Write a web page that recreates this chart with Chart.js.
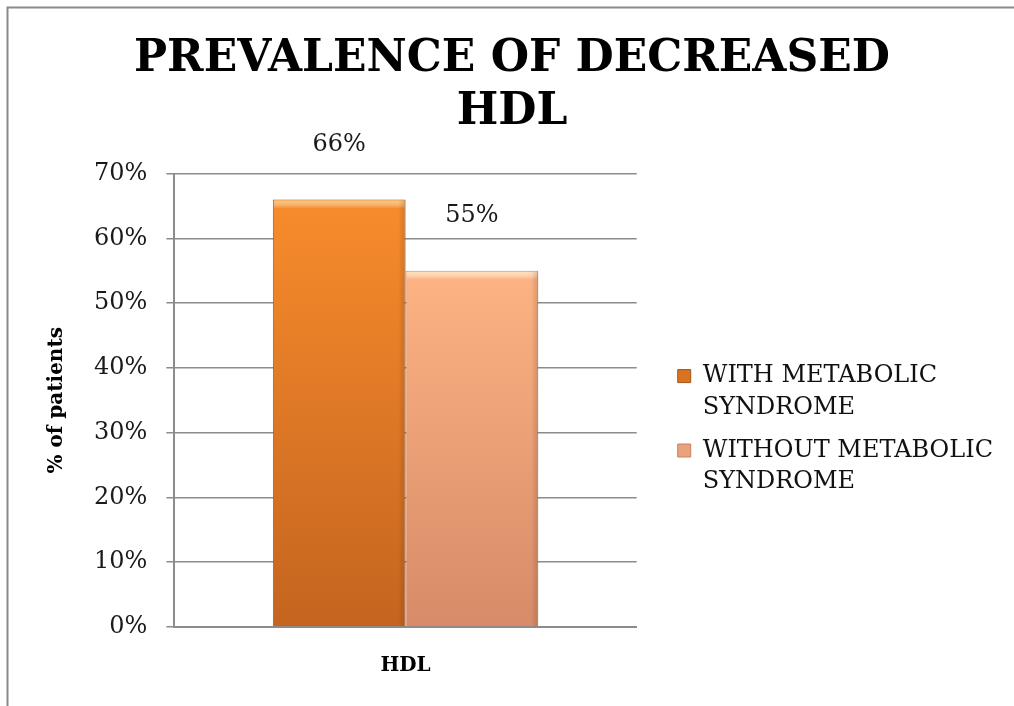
<!DOCTYPE html>
<html>
<head>
<meta charset="utf-8">
<script src="https://cdn.jsdelivr.net/npm/chart.js"></script>
<style>
  body { margin: 0; background: #fff; }
  #wrap { width: 1014px; height: 706px; position: relative; }
</style>
</head>
<body>
<div id="wrap"><canvas id="hdlChart"></canvas></div>
<script>
  const categories = ['HDL'];
  const withMetS = [66];
  const withoutMetS = [55];
  const seriesNames = [['WITH METABOLIC', 'SYNDROME'], ['WITHOUT METABOLIC', 'SYNDROME']];
  const yTicks = [0, 10, 20, 30, 40, 50, 60, 70];

  const serif = '"DejaVu Serif", "Liberation Serif", serif';
  const gridGray = '#8c8c8c';

  // top / bottom colours of each bar's vertical gradient
  const barTop = ['#f78c2c', '#fdb383'];
  const barBottom = ['#c4641f', '#d78b68'];
  const barEdge = ['#a4561c', '#c58262'];
  const barShine = ['#fbc66c', '#ffe2b8'];
  const legendFill = ['#d8731f', '#eaa27b'];

  function barGradient(i) {
    return ctx => {
      const chart = ctx.chart;
      const area = chart.chartArea;
      if (!area || ctx.dataIndex === undefined) return barTop[i];
      const y = chart.scales.y;
      const top = y.getPixelForValue(ctx.raw);
      const g = chart.ctx.createLinearGradient(0, top, 0, area.bottom);
      g.addColorStop(0, barTop[i]);
      g.addColorStop(1, barBottom[i]);
      return g;
    };
  }

  // thin grey frame along the top and left edge
  const frame = {
    id: 'frame',
    beforeDraw(chart) {
      const c = chart.ctx;
      c.save();
      c.strokeStyle = '#8a8a8a';
      c.lineWidth = 2;
      c.beginPath();
      c.moveTo(7.5, chart.height + 5);
      c.lineTo(7.5, 7.5);
      c.lineTo(chart.width + 5, 7.5);
      c.stroke();
      c.restore();
    }
  };

  // light bevel at the top of each bar, shade on the right edge
  const bevel = {
    id: 'bevel',
    afterDatasetsDraw(chart) {
      const c = chart.ctx;
      chart.data.datasets.forEach((ds, i) => {
        chart.getDatasetMeta(i).data.forEach(bar => {
          const {x, y, width, base} = bar.getProps(['x', 'y', 'width', 'base'], true);
          const left = x - width / 2;
          c.save();
          let g = c.createLinearGradient(0, y, 0, y + 9);
          g.addColorStop(0, barShine[i]);
          g.addColorStop(1, 'rgba(255,255,255,0)');
          c.fillStyle = g;
          c.fillRect(left + 1, y + 1, width - 2, 9);
          g = c.createLinearGradient(left + width - 7, 0, left + width, 0);
          g.addColorStop(0, 'rgba(0,0,0,0)');
          g.addColorStop(1, 'rgba(90,40,10,0.18)');
          c.fillStyle = g;
          c.fillRect(left + width - 7, y + 1, 7, base - y - 1);
          c.restore();
        });
      });
    }
  };

  // value labels above the bars
  const valueLabels = {
    id: 'valueLabels',
    afterDatasetsDraw(chart) {
      const c = chart.ctx;
      c.save();
      c.font = '24px ' + serif;
      c.fillStyle = '#1a1a1a';
      c.textAlign = 'center';
      c.textBaseline = 'middle';
      chart.data.datasets.forEach((ds, i) => {
        chart.getDatasetMeta(i).data.forEach((bar, j) => {
          c.fillText(ds.data[j] + '%', bar.x, bar.y - 55);
        });
      });
      c.restore();
    }
  };

  new Chart(document.getElementById('hdlChart'), {
    type: 'bar',
    data: {
      labels: categories,
      datasets: [{
        label: seriesNames[0].join(' '),
        data: withMetS,
        backgroundColor: barGradient(0),
        borderColor: barEdge[0],
        borderWidth: 1,
        categoryPercentage: 0.574,
        barPercentage: 1
      }, {
        label: seriesNames[1].join(' '),
        data: withoutMetS,
        backgroundColor: barGradient(1),
        borderColor: barEdge[1],
        borderWidth: 1,
        categoryPercentage: 0.574,
        barPercentage: 1
      }]
    },
    options: {
      responsive: true,
      maintainAspectRatio: false,
      animation: false,
      layout: { padding: { left: 21, right: 11, top: 6, bottom: 9 } },
      plugins: {
        title: {
          display: true,
          text: ['PREVALENCE OF DECREASED', 'HDL'],
          color: '#000',
          font: { family: serif, size: 44, weight: 'bold', lineHeight: 1.2 },
          padding: { top: 27, bottom: 35 }
        },
        legend: {
          position: 'right',
          fullSize: false,
          maxWidth: 420,
          title: { display: true, text: '', padding: { top: 50, bottom: 0 } },
          labels: {
            boxWidth: 13,
            boxHeight: 13,
            padding: 12,
            color: '#111',
            font: { family: serif, size: 24, lineHeight: 1.3 },
            generateLabels: chart => chart.data.datasets.map((ds, i) => ({
              text: seriesNames[i],
              fillStyle: legendFill[i],
              strokeStyle: barEdge[i],
              fontColor: '#111',
              lineWidth: 1,
              hidden: false,
              datasetIndex: i
            }))
          }
        },
        tooltip: { enabled: false }
      },
      scales: {
        x: {
          grid: { display: false },
          border: { display: true, color: gridGray, width: 2 },
          ticks: {
            color: '#000',
            padding: 19,
            font: { family: serif, size: 20, weight: 'bold' }
          }
        },
        y: {
          min: 0,
          max: 70,
          afterBuildTicks: s => { s.ticks = yTicks.map(v => ({ value: v })); },
          grid: { color: gridGray, lineWidth: 1.5, tickLength: 8 },
          border: { display: true, color: gridGray, width: 2 },
          ticks: {
            color: '#1a1a1a',
            padding: 19,
            font: { family: serif, size: 24 },
            callback: v => v + '%'
          },
          title: {
            display: true,
            text: '% of patients',
            color: '#000',
            font: { family: serif, size: 20, weight: 'bold', lineHeight: 1.2 },
            padding: { top: 24, bottom: 6 }
          }
        },
        gap: {
          type: 'linear',
          position: 'right',
          grid: { display: false },
          border: { display: false },
          ticks: { display: false },
          afterFit: s => { s.width = 29; }
        }
      }
    },
    plugins: [frame, bevel, valueLabels]
  });
</script>
</body>
</html>
